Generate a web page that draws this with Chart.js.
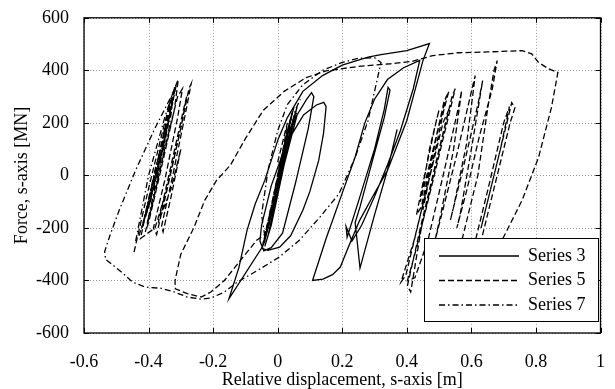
<!DOCTYPE html>
<html>
<head>
<meta charset="utf-8">
<script src="https://cdn.jsdelivr.net/npm/chart.js@4.4.1/dist/chart.umd.min.js"></script>
<style>
  html, body { margin: 0; padding: 0; background: #fff; }
  canvas { display: block; }
</style>
</head>
<body>
<canvas id="chart" width="615" height="389"></canvas>
<script>
// axis ticks
const xTicks = [-0.6, -0.4, -0.2, 0, 0.2, 0.4, 0.6, 0.8, 1];
const yTicks = [-600, -400, -200, 0, 200, 400, 600];

// Series 3 (solid) - displacement [m], force [MN]
const s3X = [0.000, 0.030, 0.045, 0.030, -0.010, -0.040, -0.050, -0.030, 0.005, 0.040, 0.060, 0.050, 0.010, -0.030, -0.040, -0.020, 0.020, 0.060, 0.090, 0.105, 0.112, 0.095, 0.055, 0.015, -0.020, -0.043, -0.055, -0.050, -0.020, 0.027, 0.080, 0.120, 0.143, 0.150, 0.142, 0.127, 0.100, 0.078, 0.040, 0.006, -0.030, -0.050,
  -0.151, -0.120, -0.095, -0.070, -0.040, 0.002, 0.030, 0.078, 0.139, 0.200, 0.280, 0.320, 0.400, 0.470,
  0.450, 0.420, 0.400, 0.340, 0.290, 0.254, 0.220, 0.194, 0.170, 0.140, 0.108,
  0.150, 0.203, 0.240, 0.270, 0.300, 0.340, 0.390, 0.440, 0.420, 0.380, 0.340, 0.300, 0.260, 0.230, 0.212, 0.215, 0.250, 0.300, 0.330, 0.342, 0.348, 0.330, 0.290, 0.255, 0.240, 0.255, 0.300, 0.340, 0.370];
const s3Y = [0, 170, 240, 150, -90, -250, -280, -200, -20, 180, 260, 210, 0, -230, -270, -190, 40, 230, 290, 315, 300, 180, -30, -220, -275, -287, -250, -190, -40, 122, 230, 268, 278, 262, 160, 57, -60, -133, -230, -273, -285, -277,
  -470, -350, -209, -110, -19, 140, 220, 320, 380, 420, 450, 460, 475, 502,
  437, 300, 209, 19, -90, -171, -270, -349, -378, -395, -400,
  -240, -57, 70, 200, 290, 365, 410, 438, 330, 170, 40, -80, -190, -250, -195, -235, -100, 100, 250, 335, 325, 220, 40, -120, -180, -353, -150, 20, 175];

// Series 5 (dashed), null splits the left cluster from the main path
const s5X = [-0.445, -0.400, -0.350, -0.320, -0.308, -0.320, -0.360, -0.400, -0.410, -0.390, -0.350, -0.310, -0.295, -0.310, -0.350, -0.385, -0.375, -0.340, -0.300, -0.275, -0.268, -0.285, -0.325, -0.360, -0.355, -0.330, -0.300, -0.330, -0.370,
  -0.330, -0.290, -0.282, -0.300, -0.345, -0.380, -0.425, -0.390, -0.345, -0.315, -0.330, -0.370, -0.410, -0.395, -0.355, -0.325,
  null,
  0.000, 0.030, 0.020, -0.020, -0.040, -0.020, 0.020, 0.040, 0.010, -0.030, -0.045, -0.015, 0.025, 0.050, 0.035, -0.005, -0.035,
  -0.065, -0.115, -0.165, -0.207, -0.237, -0.280, -0.317, -0.318, -0.300, -0.260, -0.226, -0.190, -0.146, -0.100, -0.045, 0.020, 0.088, 0.150, 0.250, 0.350, 0.420, 0.480, 0.560, 0.650, 0.757, 0.787, 0.808, 0.839, 0.868,
  0.848, 0.808, 0.757, 0.706, 0.660, 0.630, 0.620, 0.680, 0.720, 0.735, 0.725, 0.700, 0.660, 0.630, 0.640, 0.690, 0.718, 0.700, 0.650, 0.610, 0.560,
  0.620, 0.650, 0.670, 0.680, 0.665, 0.625, 0.585, 0.555, 0.565, 0.600, 0.635, 0.622, 0.575, 0.535, 0.545, 0.585, 0.612, 0.602, 0.555, 0.512, 0.485, 0.505, 0.545, 0.570, 0.560, 0.522, 0.465, 0.425, 0.402, 0.425, 0.485, 0.550, 0.540, 0.492, 0.445, 0.412, 0.402, 0.442, 0.500, 0.530, 0.512, 0.462, 0.422, 0.382, 0.397, 0.452, 0.492, 0.522, 0.507, 0.472, 0.442,
  0.470, 0.500, 0.490, 0.455, 0.430, 0.445, 0.480, 0.515, 0.530, 0.515, 0.475, 0.450];
const s5Y = [-292, -50, 200, 330, 365, 250, 30, -180, -215, -120, 100, 300, 330, 220, -20, -200, -225, -40, 180, 330, 349, 240, 0, -195, -215, -80, 100, -50, -180,
  40, 260, 300, 180, -60, -200, -240, -40, 200, 340, 250, 20, -160, -100, 120, 290,
  null,
  50, 200, 120, -120, -230, -150, 80, 190, 20, -200, -260, -100, 130, 260, 180, -40, -220,
  -247, -323, -400, -444, -463, -450, -432, -400, -300, -200, -95, -20, 40, 140, 247, 320, 372, 398, 415, 425, 435, 456, 467, 470, 475, 463, 430, 406, 392,
  258, 68, -95, -220, -330, -400, -300, 0, 200, 258, 277, 150, -50, -200, -150, 100, 262, 200, -60, -260, -300,
  0, 250, 400, 437, 330, 150, -60, -200, -150, 100, 361, 280, 30, -170, -120, 120, 380, 330, 80, -130, -260, -150, 100, 323, 260, 50, -250, -390, -400, -300, 0, 330, 300, 50, -200, -444, -420, -200, 100, 250, 200, -50, -250, -406, -380, -100, 150, 300, 230, 50, -100,
  100, 250, 200, 0, -150, -120, 80, 280, 320, 250, 20, -130];

// Series 7 (dash-dot)
const s7X = [-0.440, -0.400, -0.350, -0.318, -0.335, -0.380, -0.420, -0.400, -0.355, -0.325, -0.340, -0.385, -0.405, -0.370, -0.335,
  -0.350, -0.395, -0.430, -0.410, -0.365, -0.330, -0.345, -0.390, -0.415, -0.375, -0.330,
  -0.380, -0.440, -0.491, -0.520, -0.536, -0.533, -0.510, -0.480, -0.450, -0.410, -0.360, -0.320, -0.280, -0.237, -0.207, -0.165, -0.125, -0.060, 0.005, 0.067, 0.130, 0.190, 0.240, 0.280, 0.320,
  0.300, 0.250, 0.200, 0.139, 0.078, 0.030, 0.000, -0.030, -0.050, -0.040, -0.010, 0.030, 0.050, 0.030, -0.010, -0.040, -0.020, 0.020, 0.040, 0.060, 0.045, 0.005, -0.030, -0.045, -0.025, 0.015, 0.055, 0.070];
const s7Y = [-250, 0, 220, 340, 230, 20, -200, -110, 120, 280, 150, -90, -185, 10, 230,
  120, -100, -230, -150, 60, 260, 160, -50, -170, 30, 300,
  180, 20, -133, -230, -290, -320, -342, -372, -406, -425, -430, -444, -463, -471, -467, -444, -406, -360, -311, -247, -160, -70, 68, 209, 430,
  448, 446, 430, 400, 345, 270, 170, 20, -150, -230, -60, 160, 260, 170, -70, -240, -160, 60, 150, 240, 180, -20, -200, -255, -170, 40, 250, 290];

const seriesNames = ['Series 3', 'Series 5', 'Series 7'];

const FONT = "'Liberation Serif', 'Times New Roman', serif";
const DASH5 = [6, 3];
const DASH7 = [6, 3, 1.5, 3];

function toPoints(xs, ys) {
  return xs.map((x, i) => ({ x: x, y: ys[i] }));
}

// dotted grid, box and inward ticks
const framePlugin = {
  id: 'frame',
  beforeDatasetsDraw(chart) {
    const { ctx, chartArea: a, scales } = chart;
    ctx.save();
    ctx.strokeStyle = '#999';
    ctx.lineWidth = 1;
    ctx.setLineDash([1, 2]);
    xTicks.forEach(v => {
      const px = Math.round(scales.x.getPixelForValue(v)) + 0.5;
      ctx.beginPath(); ctx.moveTo(px, a.top); ctx.lineTo(px, a.bottom); ctx.stroke();
    });
    yTicks.forEach(v => {
      const py = Math.round(scales.y.getPixelForValue(v)) + 0.5;
      ctx.beginPath(); ctx.moveTo(a.left, py); ctx.lineTo(a.right, py); ctx.stroke();
    });
    ctx.restore();
  },
  afterDatasetsDraw(chart) {
    const { ctx, chartArea: a, scales } = chart;
    ctx.save();
    ctx.strokeStyle = '#000';
    ctx.lineWidth = 1.3;
    ctx.setLineDash([]);
    ctx.strokeRect(a.left, a.top, a.right - a.left, a.bottom - a.top);
    const tl = 5;
    ctx.lineWidth = 1;
    xTicks.forEach(v => {
      const px = Math.round(scales.x.getPixelForValue(v)) + 0.5;
      ctx.beginPath();
      ctx.moveTo(px, a.bottom); ctx.lineTo(px, a.bottom - tl);
      ctx.moveTo(px, a.top); ctx.lineTo(px, a.top + tl);
      ctx.stroke();
    });
    yTicks.forEach(v => {
      const py = Math.round(scales.y.getPixelForValue(v)) + 0.5;
      ctx.beginPath();
      ctx.moveTo(a.left, py); ctx.lineTo(a.left + tl, py);
      ctx.moveTo(a.right, py); ctx.lineTo(a.right - tl, py);
      ctx.stroke();
    });

    // legend box in the lower right corner
    const bx = 424, by = 238, bw = 174, bh = 83;
    ctx.fillStyle = '#fff';
    ctx.fillRect(bx, by, bw, bh);
    ctx.lineWidth = 1;
    ctx.strokeRect(bx + 0.5, by + 0.5, bw, bh);
    const dashes = [[], DASH5, DASH7];
    ctx.font = '18px ' + FONT;
    ctx.fillStyle = '#000';
    ctx.textBaseline = 'middle';
    ctx.textAlign = 'left';
    seriesNames.forEach((name, i) => {
      const y = by + 18 + i * 24.5;
      ctx.setLineDash(dashes[i]);
      ctx.lineWidth = 1.3;
      ctx.beginPath(); ctx.moveTo(439, y); ctx.lineTo(519, y); ctx.stroke();
      ctx.fillText(name, 528, y);
    });
    ctx.restore();
  }
};

const lineBase = {
  showLine: true,
  pointRadius: 0,
  borderColor: '#000',
  borderWidth: 1.3,
  fill: false,
  tension: 0,
  spanGaps: false
};

new Chart(document.getElementById('chart'), {
  type: 'scatter',
  data: {
    datasets: [
      Object.assign({ label: seriesNames[0], data: toPoints(s3X, s3Y) }, lineBase),
      Object.assign({ label: seriesNames[1], data: toPoints(s5X, s5Y), borderDash: DASH5 }, lineBase),
      Object.assign({ label: seriesNames[2], data: toPoints(s7X, s7Y), borderDash: DASH7 }, lineBase)
    ]
  },
  options: {
    responsive: false,
    animation: false,
    layout: { padding: { top: 17, right: 5, left: 0, bottom: 0 } },
    plugins: { legend: { display: false }, tooltip: { enabled: false } },
    scales: {
      x: {
        type: 'linear',
        min: -0.6, max: 1,
        afterBuildTicks: s => { s.ticks = xTicks.map(v => ({ value: v })); },
        afterFit: s => { s.height = 56; },
        grid: { display: false },
        border: { display: false },
        ticks: {
          color: '#000', padding: 10, maxRotation: 0,
          font: { family: FONT, size: 18 },
          callback: v => String(Number(v.toFixed(1)))
        },
        title: {
          display: true, text: 'Relative displacement, s-axis [m]', color: '#000',
          font: { family: FONT, size: 18, lineHeight: 1 }, padding: 0
        }
      },
      y: {
        type: 'linear',
        min: -600, max: 600,
        afterBuildTicks: s => { s.ticks = yTicks.map(v => ({ value: v })); },
        afterFit: s => { s.width = 84; },
        grid: { display: false },
        border: { display: false },
        ticks: {
          color: '#000', padding: 7,
          font: { family: FONT, size: 18 },
          callback: v => String(v)
        },
        title: {
          display: true, text: 'Force, s-axis [MN]', color: '#000',
          font: { family: FONT, size: 18, lineHeight: 1 }, padding: { top: 13, bottom: 0 }
        }
      }
    }
  },
  plugins: [framePlugin]
});
</script>
</body>
</html>
